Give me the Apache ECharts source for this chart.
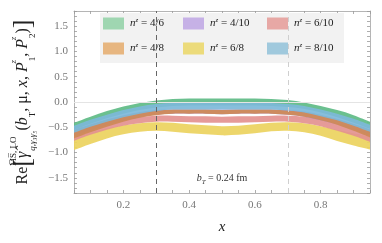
<!DOCTYPE html>
<html><head><meta charset="utf-8">
<script src="https://cdn.jsdelivr.net/npm/echarts@6/dist/echarts.min.js"></script>
<style>html,body{margin:0;padding:0;background:#fff}#c{width:382px;height:243px}</style>
</head><body><div id="c"></div>
<script>
const xs = [0.05,0.1,0.15,0.2,0.25,0.3,0.35,0.4,0.45,0.5,0.55,0.6,0.65,0.7,0.75,0.8,0.85,0.9,0.95];
const xTickLabels = [0.2,0.4,0.6,0.8];
const yTickLabels = [-1.5,-1.0,-0.5,0.0,0.5,1.0,1.5];
const names = ['4/6','4/8','4/10','6/8','6/10','8/10'];
// n^z = 4/6 (green)
const g46Hi = [-0.41,-0.29,-0.18,-0.09,-0.02,0.03,0.06,0.07,0.07,0.07,0.07,0.07,0.06,0.04,-0.01,-0.08,-0.16,-0.26,-0.39];
const g46Lo = [-0.55,-0.43,-0.32,-0.23,-0.16,-0.11,-0.08,-0.07,-0.07,-0.07,-0.07,-0.07,-0.08,-0.10,-0.14,-0.21,-0.30,-0.41,-0.53];
// n^z = 4/8 (orange)
const o48Hi = [-0.56,-0.45,-0.35,-0.27,-0.21,-0.17,-0.15,-0.15,-0.15,-0.16,-0.15,-0.15,-0.15,-0.17,-0.20,-0.26,-0.34,-0.44,-0.55];
const o48Lo = [-0.72,-0.60,-0.49,-0.39,-0.31,-0.26,-0.23,-0.23,-0.23,-0.24,-0.23,-0.23,-0.23,-0.25,-0.29,-0.36,-0.45,-0.57,-0.70];
// n^z = 4/10 (purple)
const p410Hi = [-0.55,-0.44,-0.34,-0.26,-0.20,-0.16,-0.15,-0.15,-0.15,-0.15,-0.15,-0.15,-0.15,-0.16,-0.19,-0.25,-0.33,-0.43,-0.54];
const p410Lo = [-0.68,-0.57,-0.46,-0.37,-0.30,-0.25,-0.23,-0.23,-0.23,-0.24,-0.23,-0.23,-0.23,-0.25,-0.29,-0.36,-0.44,-0.55,-0.67];
// n^z = 6/8 (yellow)
const y68Hi = [-0.70,-0.60,-0.52,-0.46,-0.42,-0.40,-0.41,-0.44,-0.46,-0.48,-0.47,-0.44,-0.41,-0.40,-0.42,-0.48,-0.55,-0.62,-0.68];
const y68Lo = [-0.95,-0.83,-0.72,-0.64,-0.59,-0.57,-0.59,-0.62,-0.64,-0.66,-0.65,-0.62,-0.58,-0.57,-0.60,-0.67,-0.77,-0.86,-0.94];
// n^z = 6/10 (pink)
const r610Hi = [-0.60,-0.49,-0.40,-0.33,-0.29,-0.27,-0.27,-0.28,-0.28,-0.29,-0.28,-0.28,-0.27,-0.27,-0.29,-0.34,-0.42,-0.51,-0.63];
const r610Lo = [-0.77,-0.65,-0.55,-0.47,-0.42,-0.39,-0.39,-0.40,-0.41,-0.41,-0.41,-0.40,-0.39,-0.39,-0.42,-0.48,-0.57,-0.67,-0.79];
// n^z = 8/10 (blue)
const b810Hi = [-0.47,-0.35,-0.25,-0.16,-0.09,-0.04,-0.02,-0.02,-0.02,-0.02,-0.02,-0.02,-0.02,-0.04,-0.08,-0.15,-0.23,-0.33,-0.45];
const b810Lo = [-0.61,-0.49,-0.39,-0.30,-0.23,-0.18,-0.15,-0.15,-0.15,-0.15,-0.15,-0.15,-0.15,-0.17,-0.21,-0.28,-0.36,-0.47,-0.59];

const bands = {
  '4/6':  {lo:g46Lo, hi:g46Hi, fill:'#5ebb86', leg:'#9fd6b1'},
  '4/8':  {lo:o48Lo, hi:o48Hi, fill:'#cf8a55', leg:'#e7b680'},
  '4/10': {lo:p410Lo, hi:p410Hi, fill:'#a98ad0', leg:'#c6b1e6'},
  '6/8':  {lo:y68Lo, hi:y68Hi, fill:'#ecd35e', leg:'#ecdb7b'},
  '6/10': {lo:r610Lo, hi:r610Hi, fill:'#e39190', leg:'#e7a8a5'},
  '8/10': {lo:b810Lo, hi:b810Hi, fill:'#7db9d9', leg:'#a0c9dd'}
};
const drawOrder = ['6/8','6/10','4/10','4/8','4/6','8/10'];
const FONT = 'Liberation Serif';

// smooth path (Catmull-Rom -> cubic Bezier) through pixel points
function smoothSeg(pts, moveFirst) {
  let d = (moveFirst ? 'M' : 'L') + pts[0][0] + ' ' + pts[0][1];
  for (let i = 0; i < pts.length - 1; i++) {
    const p0 = pts[Math.max(i - 1, 0)], p1 = pts[i], p2 = pts[i + 1], p3 = pts[Math.min(i + 2, pts.length - 1)];
    const t = 1 / 6;
    const c1 = [p1[0] + (p2[0] - p0[0]) * t, p1[1] + (p2[1] - p0[1]) * t];
    const c2 = [p2[0] - (p3[0] - p1[0]) * t, p2[1] - (p3[1] - p1[1]) * t];
    d += 'C' + c1[0] + ' ' + c1[1] + ' ' + c2[0] + ' ' + c2[1] + ' ' + p2[0] + ' ' + p2[1];
  }
  return d;
}

const series = [];
series.push({type:'line', name:'zero', data:[], z:1, silent:true,
  markLine:{silent:true, symbol:'none', label:{show:false}, animation:false,
    lineStyle:{color:'#e4e4e4', type:'solid', width:1}, data:[{yAxis:0}]}});
drawOrder.forEach(nm => {
  const b = bands[nm];
  series.push({
    type:'custom', name:nm, z:2, silent:true, clip:true,
    itemStyle:{color:b.leg},
    data: xs.map((x,i)=>[x, b.lo[i], b.hi[i]]),
    encode:{x:0, y:[1,2]},
    renderItem:(params, api) => {
      if (params.dataIndex !== 0) return;
      const up = xs.map((x,i)=>api.coord([x, b.hi[i]]));
      const dn = xs.map((x,i)=>api.coord([x, b.lo[i]])).reverse();
      const d = smoothSeg(up, true) + smoothSeg(dn, false) + 'Z';
      return {type:'path', shape:{pathData:d}, style:{fill:b.fill, opacity:0.92}};
    }
  });
});
series.push({type:'line', name:'guides', data:[], z:3, silent:true,
  markLine:{silent:true, symbol:'none', label:{show:false}, animation:false,
    lineStyle:{type:[5,4], width:1},
    data:[{xAxis:0.3, lineStyle:{color:'#666'}}, {xAxis:0.7, lineStyle:{color:'#cfcfcf'}}]},
  markPoint:{silent:true, symbol:'rect', symbolSize:0, animation:false,
    data:[{coord:[0.5,-1.52]}],
    label:{show:true, position:'inside', formatter:'{i|b}{s|T}{t| = 0.24 fm}',
      rich:{i:{fontFamily:FONT, fontStyle:'italic', fontSize:10, color:'#333', lineHeight:14},
            s:{fontFamily:FONT, fontStyle:'italic', fontSize:7, color:'#333', verticalAlign:'bottom', lineHeight:9},
            t:{fontFamily:FONT, fontSize:10, color:'#333', lineHeight:14}}}}});

const legendPos = {
  '4/6':[103,16.5], '4/8':[103,41.5],
  '4/10':[183,16.5], '6/8':[183,41.5],
  '6/10':[267,16.5], '8/10':[267,41.5]
};
const legends = names.map(nm => ({
  data:[{name:nm, itemStyle:{color:bands[nm].leg}}],
  left: legendPos[nm][0], top: legendPos[nm][1], padding:0,
  icon:'rect', itemWidth:21, itemHeight:12, itemGap:0, selectedMode:false, z:10,
  formatter: n => '{i|n}{s|z}{t| = ' + n + '}',
  textStyle:{padding:[0,0,0,1], rich:{
    i:{fontFamily:FONT, fontStyle:'italic', fontSize:11, color:'#222', lineHeight:14},
    s:{fontFamily:FONT, fontStyle:'italic', fontSize:7, color:'#222', verticalAlign:'top', lineHeight:10},
    t:{fontFamily:FONT, fontSize:11, color:'#222', lineHeight:14}}}
}));

const fmt = v => v.toFixed(1).replace('-', '\u2212');
const axisLineStyle = {color:'#b5b5b5', width:1};
const tickStyle = {color:'#999', width:0.8};

const yName = '{re|Re}{br|[}{g|\u03b3\u0302}{sup|M\u0305S\u0305, LO}{sub|q,\u03b3\u2083\u03b3\u2085}{m|(}{g|b}{sub2|T}{m|, \u03bc, }{g|x}{m|, }{g|P}{sup2|z}{sub2|1}{m|, }{g|P}{sup2|z}{sub2|2}{m|)}{br|]}';

const option = {
  animation:false,
  backgroundColor:'#fff',
  grid:{left:74, right:12, top:11, bottom:50, containLabel:false},
  legend: legends,
  graphic:[{type:'rect', shape:{x:100, y:13, width:244, height:50}, style:{fill:'#f2f2f2'}, z:5, silent:true}],
  xAxis:[
    {type:'value', min:0.05, max:0.95, interval:0.05, position:'bottom',
     axisLine:{onZero:false, lineStyle:axisLineStyle}, splitLine:{show:false},
     axisTick:{inside:true, length:3, lineStyle:tickStyle},
     axisLabel:{customValues:xTickLabels, formatter:fmt, color:'#777', fontFamily:FONT, fontSize:11, margin:7},
     name:'x', nameLocation:'middle', nameGap:27,
     nameTextStyle:{fontFamily:FONT, fontStyle:'italic', fontSize:15, color:'#222'}},
    {type:'value', min:0.05, max:0.95, interval:0.05, position:'top',
     axisLine:{onZero:false, lineStyle:axisLineStyle}, splitLine:{show:false},
     axisTick:{inside:true, length:3, lineStyle:tickStyle}, axisLabel:{show:false}}
  ],
  yAxis:[
    {type:'value', min:-1.8, max:1.8, interval:0.1, position:'left',
     axisLine:{show:true, onZero:false, lineStyle:axisLineStyle}, splitLine:{show:false},
     axisTick:{inside:true, length:3, lineStyle:tickStyle},
     axisLabel:{customValues:yTickLabels, formatter:fmt, color:'#777', fontFamily:FONT, fontSize:11, margin:6},
     name:yName, nameLocation:'middle', nameRotate:90, nameGap:37,
     nameTextStyle:{rich:{
       re:{fontFamily:FONT, fontSize:16, color:'#222', lineHeight:28},
       br:{fontFamily:FONT, fontSize:26, color:'#222', lineHeight:28},
       g:{fontFamily:FONT, fontStyle:'italic', fontSize:16, color:'#222', lineHeight:28},
       m:{fontFamily:FONT, fontSize:16, color:'#222', lineHeight:28},
       sup:{fontFamily:FONT, fontSize:9, color:'#222', verticalAlign:'top', lineHeight:12, width:1},
       sub:{fontFamily:FONT, fontStyle:'italic', fontSize:9, color:'#222', verticalAlign:'bottom', lineHeight:12},
       sup2:{fontFamily:FONT, fontStyle:'italic', fontSize:9, color:'#222', verticalAlign:'top', lineHeight:12, width:1},
       sub2:{fontFamily:FONT, fontSize:9, color:'#222', verticalAlign:'bottom', lineHeight:12}
     }}},
    {type:'value', min:-1.8, max:1.8, interval:0.1, position:'right',
     axisLine:{show:true, onZero:false, lineStyle:axisLineStyle}, splitLine:{show:false},
     axisTick:{inside:true, length:3, lineStyle:tickStyle}, axisLabel:{show:false}}
  ],
  series: series
};
const chart = echarts.init(document.getElementById('c'), null, {renderer:'canvas'});
chart.setOption(option);
</script></body></html>
